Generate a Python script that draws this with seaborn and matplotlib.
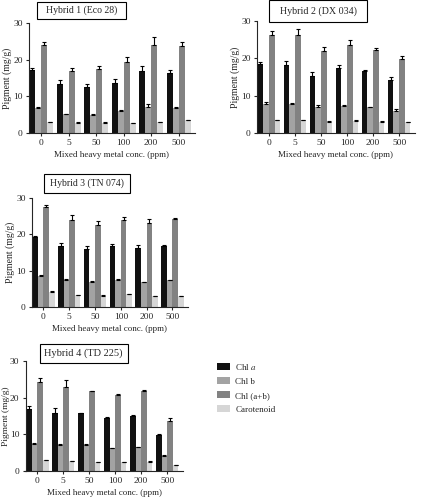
import numpy as np
import pandas as pd
import matplotlib
matplotlib.use("Agg")
import matplotlib.pyplot as plt
import seaborn as sns
from matplotlib.patches import Patch, Rectangle

conc = ["0", "5", "50", "100", "200", "500"]
pigments = ["Chl a", "Chl b", "Chl (a+b)", "Carotenoid"]
titles = ["Hybrid 1 (Eco 28)", "Hybrid 2 (DX 034)", "Hybrid 3 (TN 074)", "Hybrid 4 (TD 225)"]

h1_chla = [17.2, 13.5, 12.6, 13.7, 17.0, 16.5]
h1_chlb = [6.9, 5.1, 5.0, 6.0, 7.2, 6.8]
h1_chlab = [24.0, 17.0, 17.4, 19.4, 23.9, 23.7]
h1_car = [3.0, 2.7, 2.8, 2.6, 2.9, 3.5]
h1_err_a = [0.4, 1.0, 0.7, 1.0, 1.2, 0.8]
h1_err_b = [0.2, 0.2, 0.3, 0.3, 0.8, 0.3]
h1_err_ab = [0.9, 0.7, 1.0, 1.2, 2.3, 1.0]
h1_err_car = [0.1, 0.2, 0.1, 0.1, 0.2, 0.1]

h2_chla = [18.5, 18.2, 15.2, 17.5, 16.5, 14.3]
h2_chlb = [7.8, 7.8, 7.0, 7.1, 6.9, 6.0]
h2_chlab = [26.2, 26.2, 22.0, 23.7, 22.3, 19.8]
h2_car = [3.5, 3.4, 3.0, 3.3, 3.0, 2.9]
h2_err_a = [0.5, 1.0, 1.2, 0.6, 0.3, 0.6]
h2_err_b = [0.4, 0.3, 0.4, 0.3, 0.1, 0.3]
h2_err_ab = [1.0, 1.6, 1.0, 1.1, 0.6, 0.9]
h2_err_car = [0.1, 0.1, 0.1, 0.1, 0.1, 0.1]

h3_chla = [19.2, 16.8, 16.0, 16.8, 16.3, 16.8]
h3_chlb = [8.4, 7.4, 6.9, 7.4, 6.8, 7.4]
h3_chlab = [27.5, 24.0, 22.5, 24.0, 23.2, 24.3]
h3_car = [4.2, 3.3, 3.1, 3.6, 3.0, 3.0]
h3_err_a = [0.3, 0.7, 0.7, 0.6, 0.8, 0.2]
h3_err_b = [0.3, 0.3, 0.2, 0.3, 0.1, 0.1]
h3_err_ab = [0.5, 1.2, 1.2, 0.9, 1.0, 0.2]
h3_err_car = [0.2, 0.1, 0.1, 0.1, 0.1, 0.1]

h4_chla = [17.0, 15.9, 15.7, 14.5, 14.9, 9.8]
h4_chlb = [7.5, 7.2, 7.0, 6.2, 6.5, 4.1]
h4_chlab = [24.4, 22.8, 21.8, 20.7, 21.7, 13.6]
h4_car = [3.0, 2.6, 2.4, 2.4, 2.5, 1.6]
h4_err_a = [0.6, 1.4, 0.2, 0.3, 0.4, 0.3]
h4_err_b = [0.2, 0.3, 0.3, 0.1, 0.1, 0.2]
h4_err_ab = [0.9, 1.9, 0.1, 0.4, 0.3, 0.9]
h4_err_car = [0.1, 0.1, 0.1, 0.1, 0.1, 0.1]

values = [
    (h1_chla, h1_chlb, h1_chlab, h1_car),
    (h2_chla, h2_chlb, h2_chlab, h2_car),
    (h3_chla, h3_chlb, h3_chlab, h3_car),
    (h4_chla, h4_chlb, h4_chlab, h4_car),
]
errors = [
    (h1_err_a, h1_err_b, h1_err_ab, h1_err_car),
    (h2_err_a, h2_err_b, h2_err_ab, h2_err_car),
    (h3_err_a, h3_err_b, h3_err_ab, h3_err_car),
    (h4_err_a, h4_err_b, h4_err_ab, h4_err_car),
]

colors = ["#111111", "#a3a3a3", "#828282", "#d6d6d6"]

sns.set_style("ticks")
plt.rcParams["font.family"] = ["Liberation Serif", "DejaVu Serif"]
plt.rcParams["mathtext.fontset"] = "stix"
plt.rcParams["axes.linewidth"] = 0.8

fig = plt.figure(figsize=(4.25, 5), dpi=100)
positions = [
    [0.068, 0.734, 0.391, 0.220],
    [0.605, 0.734, 0.371, 0.224],
    [0.075, 0.386, 0.367, 0.218],
    [0.060, 0.058, 0.370, 0.220],
]
# title box extents in axes fraction: x0, x1, y0, y1
boxes = [
    (0.048, 0.584, 1.036, 1.19),
    (0.076, 0.70, 0.995, 1.185),
    (0.077, 0.628, 1.046, 1.22),
    (0.09, 0.65, 0.985, 1.155),
]
title_fs = [7, 7.2, 7, 7.5]

for k in range(4):
    ax = fig.add_axes(positions[k])
    rows = []
    for p, vals in zip(pigments, values[k]):
        for c, v in zip(conc, vals):
            rows.append({"conc": c, "pigment": p, "value": v})
    df = pd.DataFrame(rows)
    sns.barplot(data=df, x="conc", y="value", hue="pigment", order=conc,
                hue_order=pigments, palette=colors, width=0.87, errorbar=None,
                linewidth=0, legend=False, ax=ax)
    for cont, err in zip(ax.containers, errors[k]):
        xs = [b.get_x() + b.get_width() / 2 for b in cont]
        hs = [b.get_height() for b in cont]
        ax.errorbar(xs, hs, yerr=[np.zeros(len(err)), err], fmt="none",
                    ecolor="black", elinewidth=0.8, capsize=1.2, capthick=0.8)
    ax.set_ylim(0, 30)
    ax.set_yticks([0, 10, 20, 30])
    ax.set_xlim(-0.45, 5.6)
    ax.set_xlabel("Mixed heavy metal conc. (ppm)", fontsize=6.5, labelpad=3)
    ax.set_ylabel("Pigment (mg/g)", fontsize=7 if k < 3 else 6.8,
                  labelpad=1 if k < 3 else 0)
    ax.tick_params(axis="both", labelsize=6.8, length=2.5, width=0.8, pad=2)
    sns.despine(ax=ax)
    x0, x1, y0, y1 = boxes[k]
    ax.add_patch(Rectangle((x0, y0), x1 - x0, y1 - y0, transform=ax.transAxes,
                           facecolor="white", edgecolor="black", lw=0.8,
                           clip_on=False, zorder=5))
    ax.text((x0 + x1) / 2, (y0 + y1) / 2, titles[k], transform=ax.transAxes,
            fontsize=title_fs[k], ha="center", va="center", zorder=6)

handles = [Patch(facecolor=c, edgecolor="none") for c in colors]
labels = ["Chl $\\it{a}$", "Chl b", "Chl (a+b)", "Carotenoid"]
fig.legend(handles, labels, loc="upper left", bbox_to_anchor=(0.492, 0.293),
           frameon=False, fontsize=6.5, handlelength=1.45, handleheight=0.75,
           handletextpad=0.55, labelspacing=0.62)

fig.savefig("out.png", dpi=100)
